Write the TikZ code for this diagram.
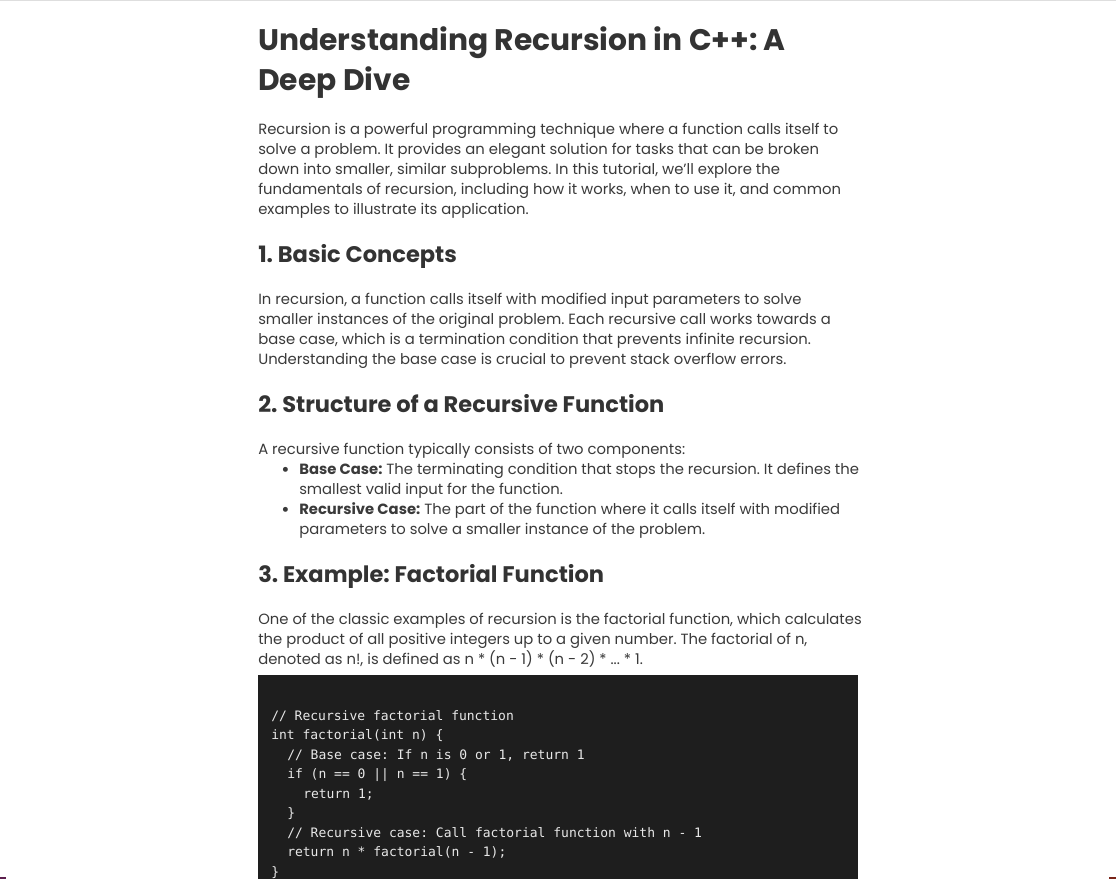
\documentclass[tikz,border=0pt]{standalone}
\usepackage{fontspec}
\setmainfont{Poppins}
\setmonofont{DejaVu Sans Mono}
\usetikzlibrary{positioning}
\frenchspacing
\definecolor{inkdark}{HTML}{333333}
\definecolor{inkbody}{HTML}{3A3A3A}
\definecolor{codebg}{HTML}{1E1E1E}
\definecolor{codeink}{HTML}{E8E8E8}
\definecolor{edgegrey}{HTML}{DEDEDE}
\definecolor{cornerleft}{HTML}{5C1F4E}
\definecolor{cornerright}{HTML}{7A2418}

\begin{document}
\begin{tikzpicture}[
        x=0.75pt, y=-0.75pt,
        title/.style={anchor=base west, inner sep=0pt, text=inkdark,
            font=\fontsize{22.3}{26}\selectfont\bfseries},
        heading/.style={anchor=base west, inner sep=0pt, text=inkdark,
            font=\fontsize{16.9}{20}\selectfont\bfseries},
        body/.style={anchor=base west, inner sep=0pt, text=inkbody,
            font=\fontsize{11.1}{15}\selectfont},
        dot/.style={anchor=base west, inner sep=0pt, text=inkbody,
            font=\fontsize{15}{15}\selectfont},
        codeline/.style={anchor=base west, inner sep=0pt, text=codeink,
            font=\fontsize{9.75}{14}\selectfont\ttfamily}]

        % PAGE
        \useasboundingbox (0,0) rectangle (1116,879);
        \fill[white] (0,0) rectangle (1116,879);
        \fill[edgegrey] (0,0) rectangle (1116,1.2);
        \fill[cornerleft] (0,876.5) rectangle (6,879);
        \fill[cornerright] (1109,877) rectangle (1116,879);

        % TITLE
        \node[title] (title_a) at (258,50) {Understanding Recursion in C++: A};
        \node[title] (title_b) at (258,90) {Deep Dive};

        % intro
        \node[body] (intro_a) at (258,134) {Recursion is a powerful programming technique where a function calls itself to};
        \node[body] (intro_b) at (258,154) {solve a problem. It provides an elegant solution for tasks that can be broken};
        \node[body] (intro_c) at (258,174) {down into smaller, similar subproblems. In this tutorial, we'll explore the};
        \node[body] (intro_d) at (258,194) {fundamentals of recursion, including how it works, when to use it, and common};
        \node[body] (intro_e) at (258,214) {examples to illustrate its application.};

        % SECTION 1
        \node[heading] (basic) at (258,262) {1. Basic Concepts};
        \node[body] (basic_a) at (258,304) {In recursion, a function calls itself with modified input parameters to solve};
        \node[body] (basic_b) at (258,324) {smaller instances of the original problem. Each recursive call works towards a};
        \node[body] (basic_c) at (258,344) {base case, which is a termination condition that prevents infinite recursion.};
        \node[body] (basic_d) at (258,364) {Understanding the base case is crucial to prevent stack overflow errors.};

        % SECTION 2
        \node[heading] (struct) at (258,412) {2. Structure of a Recursive Function};
        \node[body] (struct_a) at (258,454) {A recursive function typically consists of two components:};
        \node[dot] (bullet_base) at (281,476) {•};
        \node[body] (base_a) at (299,474) {{\bfseries Base Case:} The terminating condition that stops the recursion. It defines the};
        \node[body] (base_b) at (299,494) {smallest valid input for the function.};
        \node[dot] (bullet_rec) at (281,516) {•};
        \node[body] (rec_a) at (299,514) {{\bfseries Recursive Case:} The part of the function where it calls itself with modified};
        \node[body] (rec_b) at (299,534) {parameters to solve a smaller instance of the problem.};

        % SECTION 3
        \node[heading] (example) at (258,582) {3. Example: Factorial Function};
        \node[body] (example_a) at (258,624) {One of the classic examples of recursion is the factorial function, which calculates};
        \node[body] (example_b) at (258,644) {the product of all positive integers up to a given number. The factorial of n,};
        \node[body] (example_c) at (258,664) {denoted as n!, is defined as n * (n - 1) * (n - 2) * ... * 1.};

        % CODE
        \fill[codebg] (258,675) rectangle (858,879);
        \node[codeline] (code_a) at (271,720) {// Recursive factorial function};
        \node[codeline] (code_b) at (271,739.5) {int factorial(int n) \{};
        \node[codeline] (code_c) at (287,759) {// Base case: If n is 0 or 1, return 1};
        \node[codeline] (code_d) at (287,778.5) {if (n == 0 || n == 1) \{};
        \node[codeline] (code_e) at (303,798) {return 1;};
        \node[codeline] (code_f) at (287,817.5) {\}};
        \node[codeline] (code_g) at (287,837) {// Recursive case: Call factorial function with n - 1};
        \node[codeline] (code_h) at (287,856.5) {return n * factorial(n - 1);};
        \node[codeline] (code_i) at (271,876) {\}};
\end{tikzpicture}
\end{document}
